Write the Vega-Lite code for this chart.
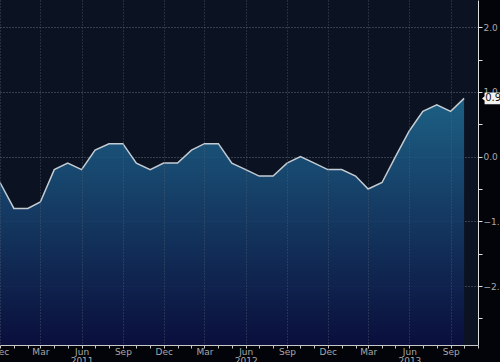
{
  "$schema": "https://vega.github.io/schema/vega-lite/v6.json",
  "width": 478,
  "height": 345,
  "autosize": "none",
  "padding": {"left": 0, "top": 0, "right": 22, "bottom": 17},
  "background": "#03030a",
  "config": {
    "view": {"stroke": null, "fill": "#0b1222"},
    "axis": {"labelFont": "DejaVu Sans", "labelFontSize": 9, "labelColor": "#a8a8a8"}
  },
  "data": {"values": [
    {"date": "2010-12-01", "value": -0.4},
    {"date": "2011-01-01", "value": -0.8},
    {"date": "2011-02-01", "value": -0.8},
    {"date": "2011-03-01", "value": -0.7},
    {"date": "2011-04-01", "value": -0.2},
    {"date": "2011-05-01", "value": -0.1},
    {"date": "2011-06-01", "value": -0.2},
    {"date": "2011-07-01", "value": 0.1},
    {"date": "2011-08-01", "value": 0.2},
    {"date": "2011-09-01", "value": 0.2},
    {"date": "2011-10-01", "value": -0.1},
    {"date": "2011-11-01", "value": -0.2},
    {"date": "2011-12-01", "value": -0.1},
    {"date": "2012-01-01", "value": -0.1},
    {"date": "2012-02-01", "value": 0.1},
    {"date": "2012-03-01", "value": 0.2},
    {"date": "2012-04-01", "value": 0.2},
    {"date": "2012-05-01", "value": -0.1},
    {"date": "2012-06-01", "value": -0.2},
    {"date": "2012-07-01", "value": -0.3},
    {"date": "2012-08-01", "value": -0.3},
    {"date": "2012-09-01", "value": -0.1},
    {"date": "2012-10-01", "value": 0.0},
    {"date": "2012-11-01", "value": -0.1},
    {"date": "2012-12-01", "value": -0.2},
    {"date": "2013-01-01", "value": -0.2},
    {"date": "2013-02-01", "value": -0.3},
    {"date": "2013-03-01", "value": -0.5},
    {"date": "2013-04-01", "value": -0.4},
    {"date": "2013-05-01", "value": 0.0},
    {"date": "2013-06-01", "value": 0.4},
    {"date": "2013-07-01", "value": 0.7},
    {"date": "2013-08-01", "value": 0.8},
    {"date": "2013-09-01", "value": 0.7},
    {"date": "2013-10-01", "value": 0.9}
  ]},
  "encoding": {
    "x": {
      "field": "date", "type": "temporal",
      "scale": {"type": "utc", "domain": [{"year": 2010, "month": 12, "date": 1, "utc": true}, {"year": 2013, "month": 11, "date": 1, "utc": true}]},
      "axis": {
        "title": null,
        "zindex": 1,
        "tickCount": {"interval": "month", "step": 1},
        "labelExpr": "utcmonth(datum.value) % 3 == 2 ? (utcmonth(datum.value) == 5 ? [utcFormat(datum.value, '%b'), utcFormat(datum.value, '%Y')] : utcFormat(datum.value, '%b')) : ''",
        "labelFlush": false,
        "labelOverlap": false,
        "labelPadding": -1,
        "labelLineHeight": 9,
        "grid": true,
        "gridColor": "#5a6570",
        "gridDash": [1, 2],
        "gridOpacity": {"condition": {"test": "utcmonth(datum.value) % 3 == 2", "value": 0.7}, "value": 0},
        "domainColor": "#c8c8c8",
        "tickColor": "#c8c8c8",
        "tickSize": 3
      }
    },
    "y": {
      "field": "value", "type": "quantitative",
      "scale": {"domain": [-2.91, 2.42], "nice": false, "zero": false},
      "axis": {
        "title": null,
        "zindex": 0,
        "orient": "right",
        "values": [-2.5, -2, -1.5, -1, -0.5, 0, 0.5, 1, 1.5, 2],
        "labelExpr": "datum.value % 1 == 0 ? format(datum.value, '.1f') : ''",
        "labelPadding": 1,
        "grid": true,
        "gridColor": "#7a8590",
        "gridDash": [1, 2],
        "gridOpacity": {"condition": {"test": "datum.value % 1 == 0", "value": 0.8}, "value": 0},
        "domainColor": "#e0e0e0",
        "tickColor": "#e0e0e0",
        "tickSize": 4
      }
    }
  },
  "layer": [
    {
      "mark": {
        "type": "area",
        "fillOpacity": 0.86,
        "line": {"color": "#c4ccd2", "strokeWidth": 1.5},
        "fill": {"gradient": "linear", "x1": 0, "y1": 0, "x2": 0, "y2": 1,
          "stops": [{"offset": 0, "color": "#206c94"}, {"offset": 1, "color": "#0a0e40"}]}
      },
      "encoding": {"y2": {"datum": -2.91}}
    },
    {
      "data": {"values": [{"date": "2013-10-01", "value": 0.9, "label": "0.9"}]},
      "layer": [
        {
          "mark": {"type": "point", "shape": "M-1,-0.7H1V0.7H-1V0.25L-1.3,0L-1,-0.25Z", "size": 290, "filled": true, "color": "#f2f2f2", "opacity": 1, "xOffset": 29, "clip": false}
        },
        {
          "mark": {"type": "text", "dx": 29, "fontSize": 10, "font": "DejaVu Sans", "color": "#111111", "clip": false},
          "encoding": {"text": {"field": "label"}}
        }
      ]
    }
  ]
}
